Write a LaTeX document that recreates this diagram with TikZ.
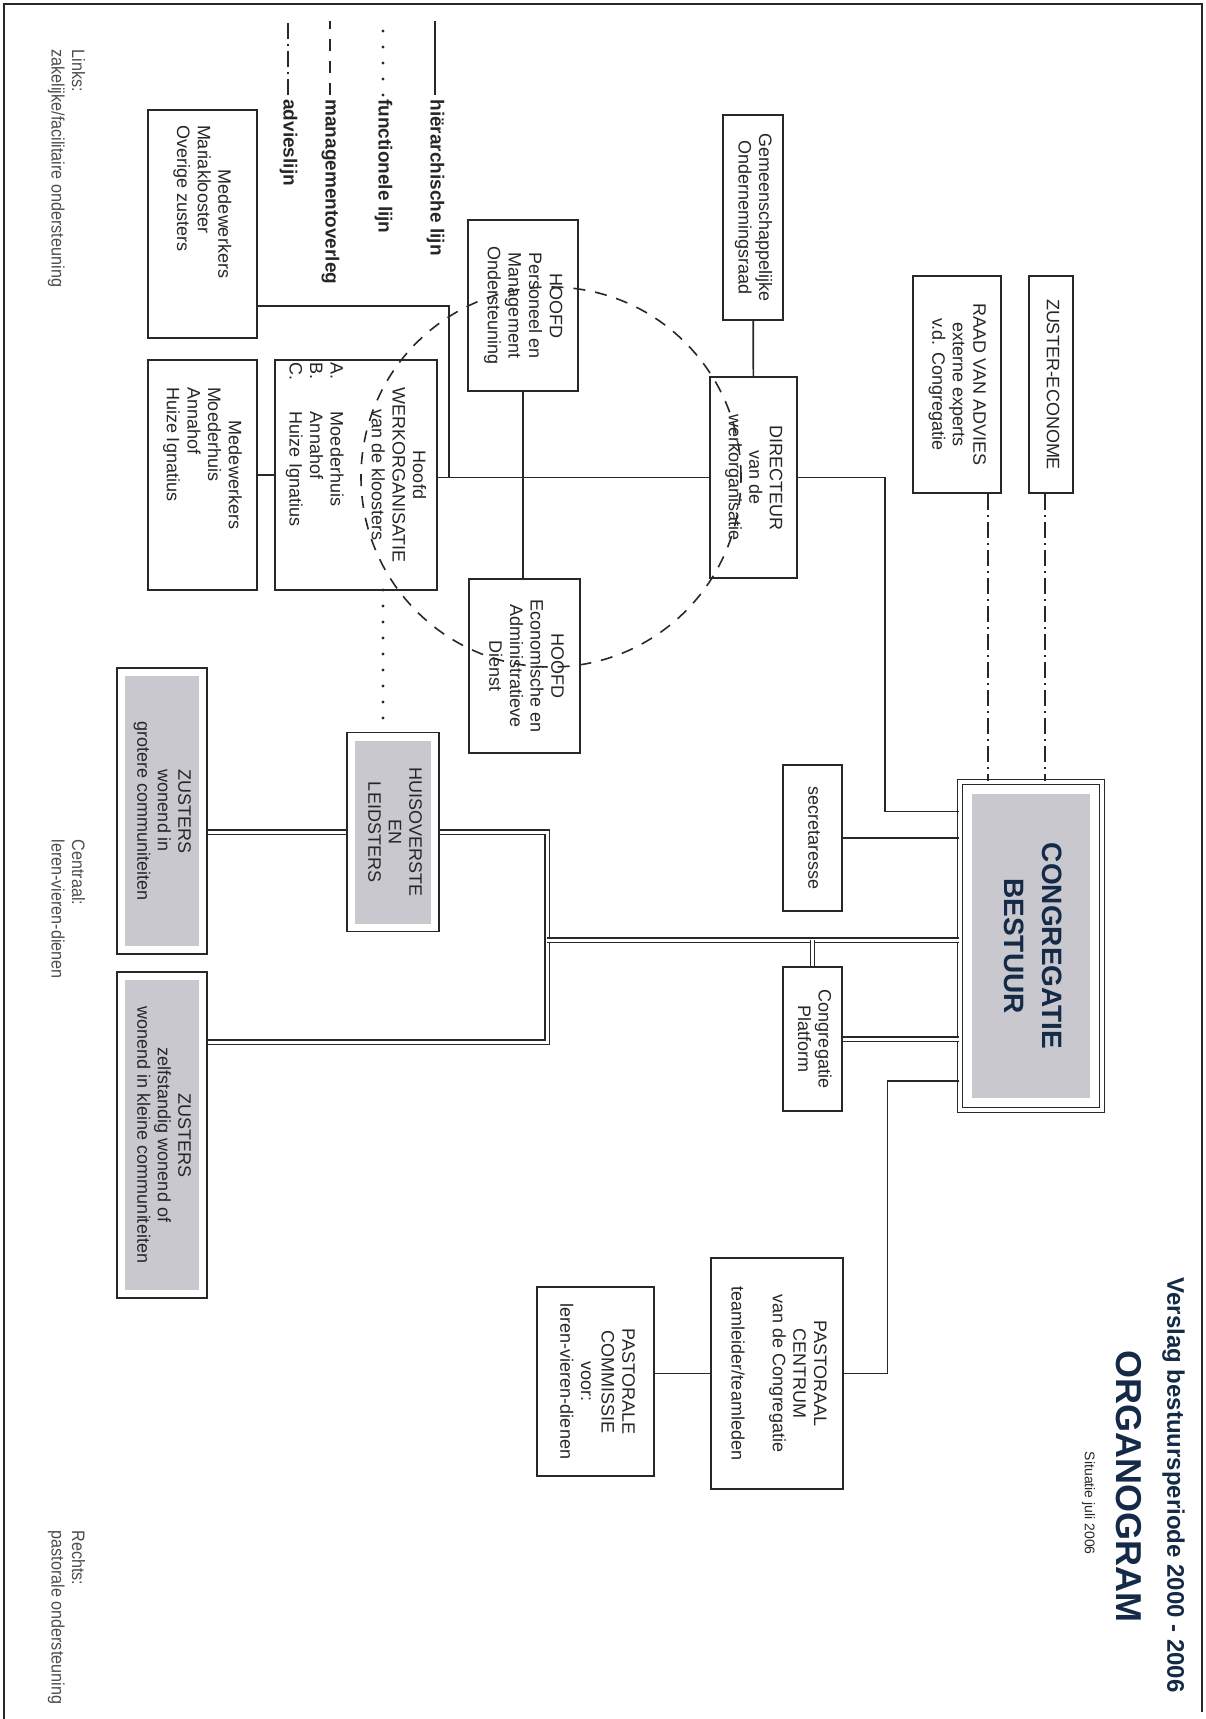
\documentclass[tikz,border=0pt]{standalone}
\usepackage{fontspec}
\setmainfont{Liberation Sans}
\usepackage{graphicx}
\usetikzlibrary{calc}

\definecolor{lijn}{RGB}{40,40,40}
\definecolor{vlak}{RGB}{200,200,206}
\definecolor{navy}{RGB}{20,42,70}

\newcommand{\rt}[1]{\rotatebox{-90}{\begin{tabular}{@{}c@{}}#1\end{tabular}}}
\newcommand{\rtl}[2]{\rotatebox{-90}{\parbox{#1}{#2}}}

\begin{document}
\begin{tikzpicture}[x=0.5pt,y=-0.5pt,
        every node/.style={inner sep=0pt,text=black!85,font=\fontsize{9}{10.3}\selectfont},
        box/.style={rectangle,draw=lijn,line width=0.9pt,fill=white},
        grijsbox/.style={box,path picture={\fill[vlak]
            ([shift={(#1,#1)}]path picture bounding box.south west) rectangle
            ([shift={(-#1,-#1)}]path picture bounding box.north east);}},
        grijsbox/.default=4pt,
        hier/.style={draw=lijn,line width=0.8pt},
        dubbel/.style={draw=lijn,line width=0.6pt,double=white,double distance=1.5pt},
        functie/.style={draw=lijn,line width=1.6pt,line cap=round,dash pattern=on 0pt off 8pt},
        overleg/.style={draw=lijn,line width=0.8pt,dash pattern=on 6pt off 5pt},
        advies/.style={draw=lijn,line width=0.8pt,dash pattern=on 8pt off 2.5pt on 1pt off 2.5pt}]
    \useasboundingbox (0,0) rectangle (1205,1719);
    \draw[lijn,line width=1pt] (4,1719) -- (4,4) -- (1202,4) -- (1202,1712);

    \node (titel) at (1173,1693) [anchor=south,text=navy,font=\fontsize{12}{14}\selectfont\bfseries] {\rt{Verslag bestuursperiode 2000 - 2006}};
    \node (organogram) at (1125,1623) [anchor=south,text=navy,font=\fontsize{18}{21}\selectfont\bfseries] {\rt{ORGANOGRAM}};
    \node (situatie) at (1088,1555) [anchor=south,font=\fontsize{7}{8}\selectfont] {\rt{Situatie juli 2006}};

    \begin{scope}[every node/.append style={box}]
        \node (econome) at (1051,384.5) [minimum width=22pt,minimum height=108.5pt] {\rt{ZUSTER-ECONOME}};
        \node (raad) at (957,384.5) [minimum width=44pt,minimum height=108.5pt] {\rt{RAAD VAN ADVIES\\externe experts\\v.d. Congregatie}};
        \node (gor) at (753,217.5) [minimum width=30pt,minimum height=102.5pt] {\rt{Gemeenschappelijke\\Ondernemingsraad}};
        \node (dir) at (753.5,477.5) [minimum width=43.5pt,minimum height=100.5pt] {\rt{DIRECTEUR\\van de\\werkorganisatie}};
        \node (hfdpers) at (523,305.5) [minimum width=55pt,minimum height=85.5pt] {\rt{HOOFD\\Personeel en\\Management\\Ondersteuning}};
        \node (hfdecon) at (524.5,666) [minimum width=55.5pt,minimum height=87pt] {\rt{HOOFD\\Economische en\\Administratieve\\Dienst}};
        \node (werkorg) at (356,475) [minimum width=81pt,minimum height=115pt] {\rtl{115pt}{\centering Hoofd\\WERKORGANISATIE\\van de kloosters\par
            \vspace{10.3pt}\raggedright\leftskip=1pt
            \makebox[25pt][l]{A.}Moederhuis\\\makebox[25pt][l]{B.}Annahof\\\makebox[25pt][l]{C.}Huize Ignatius}};
        \node (mwmoeder) at (202.5,475) [minimum width=54.5pt,minimum height=115pt] {\rtl{115pt}{\centering Medewerkers\par
            \raggedright\leftskip=13.5pt Moederhuis\\Annahof\\Huize Ignatius}};
        \node (mwmaria) at (202.5,224) [minimum width=54.5pt,minimum height=114pt] {\rtl{114pt}{\centering Medewerkers\par
            \raggedright\leftskip=7.5pt Mariaklooster\\Overige zusters}};
        \node (secr) at (812.5,838) [minimum width=29.5pt,minimum height=73pt] {\rt{secretaresse}};
        \node (platform) at (812.5,1039) [minimum width=29.5pt,minimum height=72pt] {\rt{Congregatie\\Platform}};
        \node (pastc) at (777,1373.5) [minimum width=66pt,minimum height=115.5pt] {\rt{PASTORAAL\\CENTRUM\\van de Congregatie\\ \\teamleider/teamleden}};
        \node (pastcom) at (595.5,1381.5) [minimum width=58.5pt,minimum height=94.5pt] {\rt{PASTORALE\\COMMISSIE\\voor:\\leren-vieren-dienen}};
        \node (huis) at (393,832) [grijsbox,minimum width=46pt,minimum height=99.5pt] {\rt{HUISOVERSTE\\EN\\LEIDSTERS}};
        \node (zgroot) at (162,811) [grijsbox,minimum width=45pt,minimum height=143pt] {\rt{ZUSTERS\\wonend in\\grotere communiteiten}};
        \node (zzelf) at (162,1135) [grijsbox,minimum width=45pt,minimum height=163pt] {\rt{ZUSTERS\\zelfstandig wonend of\\wonend in kleine communiteiten}};
        \node (bestuur) at (1031,946) [grijsbox=6pt,double=white,double distance=2pt,line width=0.7pt,minimum width=71pt,minimum height=164pt,
            text=navy,font=\fontsize{14}{19}\selectfont\bfseries] {\rt{CONGREGATIE\\BESTUUR}};
    \end{scope}

    \coordinate (knik) at (547,940);
    \coordinate (aftak) at (449,477.5);
    \coordinate (stip) at (383,590);
    \coordinate (adv1) at (988,0);
    \coordinate (adv2) at (1045,0);

    \draw[hier] (gor) -- (dir);
    \draw[hier] (dir.east) -- ++(87,0) |- ([yshift=-15pt]bestuur.north west);
    \draw[hier] (secr) -- (secr -| bestuur.west);
    \draw[hier] ([yshift=15pt]bestuur.south west) -- ++(-72,0) |- (pastc.east);
    \draw[hier] (pastc.west) -- (pastc.west -| pastcom.east);
    \draw[hier] (dir.west) -- (dir.west -| werkorg.east);
    \draw[hier] (hfdpers.south) -- (hfdpers.south |- hfdecon.north);
    \draw[hier] ([yshift=16.5pt]mwmaria.south east) -| (aftak);
    \draw[hier] (mwmoeder) -- (werkorg);
    \draw[dubbel] (huis.east) -| (knik) |- ([yshift=-35.5pt]zzelf.north east);
    \draw[dubbel] (huis.west) -- (huis.west -| zgroot.east);
    \draw[dubbel] ([yshift=3pt]bestuur.west) -- (knik);
    \draw[dubbel] (platform) -- (platform |- knik);
    \draw[dubbel] (platform.east) -- (platform.east -| bestuur.west);
    \draw[functie] (stip) -- (stip |- huis.north);
    \draw[advies] (adv1 |- raad.south) -- (adv1 |- bestuur.north);
    \draw[advies] (adv2 |- econome.south) -- (adv2 |- bestuur.north);

    \draw[overleg] (551,477) circle [radius=95pt];

    \foreach \lx/\stijl/\tekst [count=\i] in {435/hier/hiërarchische lijn,383/functie/functionele lijn,330/overleg/managementoverleg,288/advies/advieslijn}{
        \node (leg\i) at (\lx,99) [anchor=north,font=\fontsize{9.5}{11}\selectfont\bfseries] {\rt{\tekst}};
        \draw[\stijl] (leg\i.north) ++(0,-4) -- ++(0,-74);
    }

    \begin{scope}[every node/.append style={anchor=north,text=black!70}]
        \node (links) at (66,49) {\rotatebox{-90}{\scalebox{0.9}[1]{\begin{tabular}{@{}l@{}}Links:\\zakelijke/facilitaire ondersteuning\end{tabular}}}};
        \node (centraal) at (66,839) {\rotatebox{-90}{\scalebox{0.9}[1]{\begin{tabular}{@{}l@{}}Centraal:\\leren-vieren-dienen\end{tabular}}}};
        \node (rechts) at (66,1530) {\rotatebox{-90}{\scalebox{0.9}[1]{\begin{tabular}{@{}l@{}}Rechts:\\pastorale ondersteuning\end{tabular}}}};
    \end{scope}
\end{tikzpicture}
\end{document}
